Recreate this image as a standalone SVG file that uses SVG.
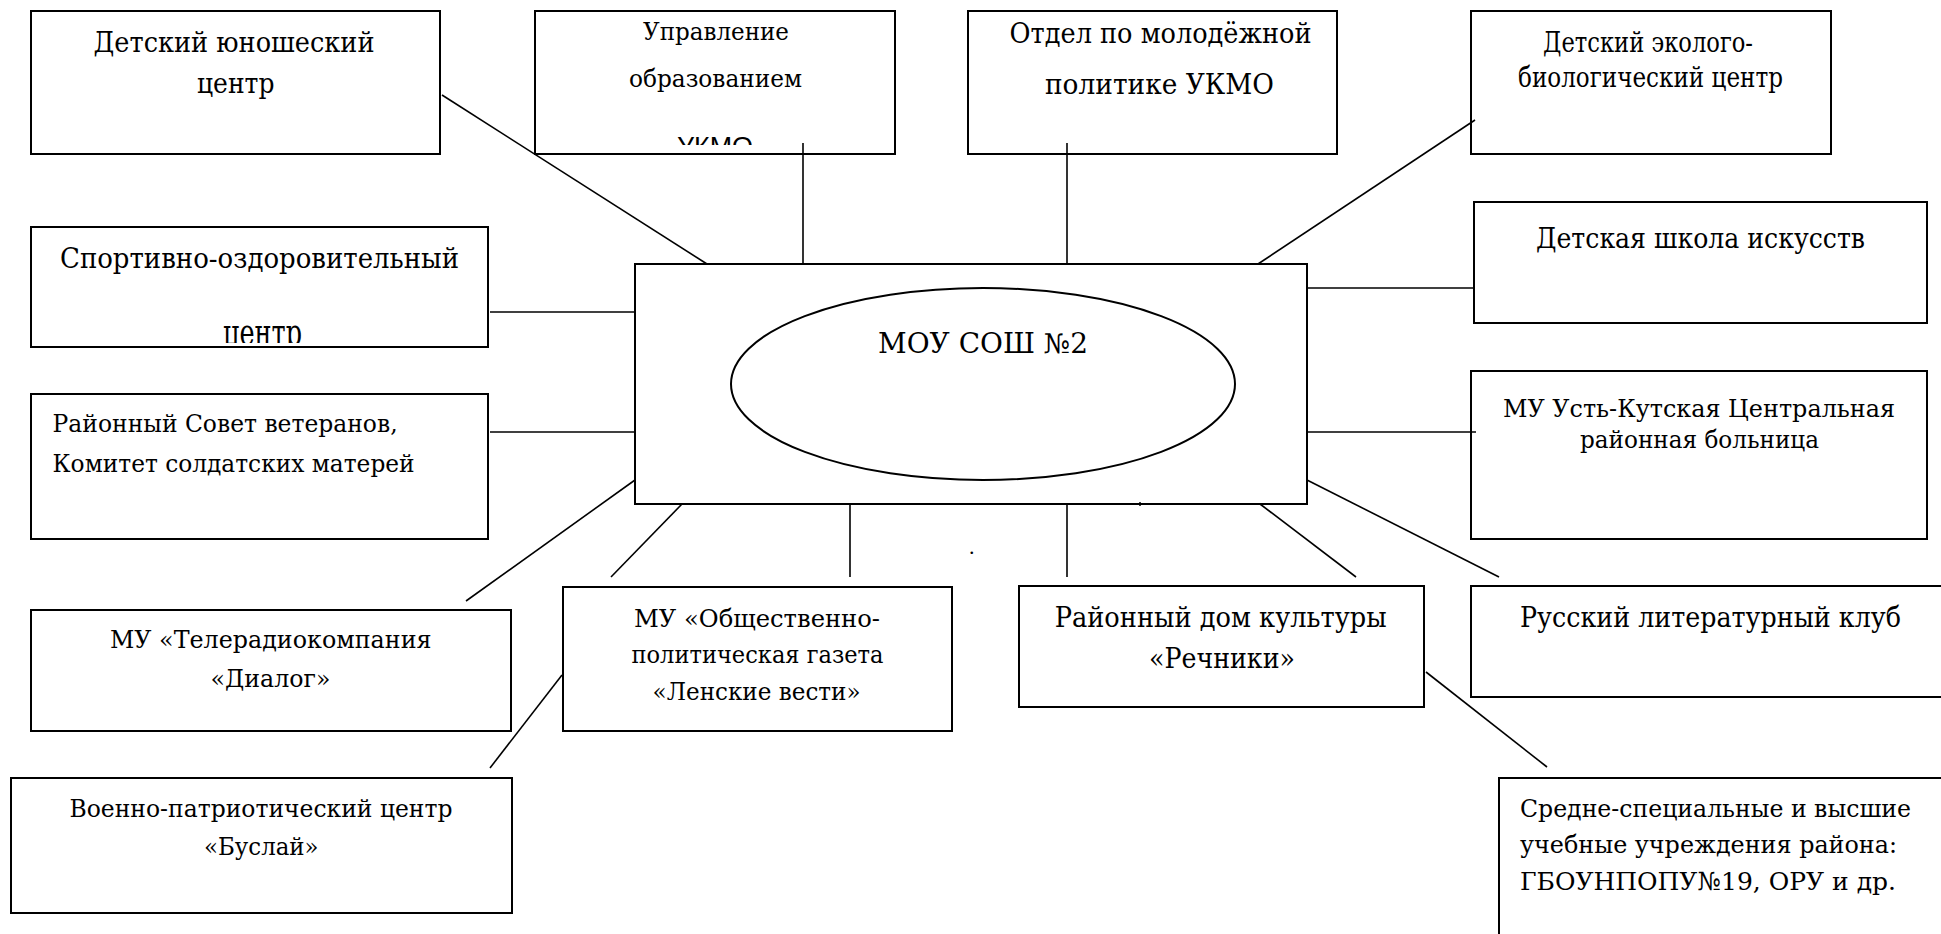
<svg xmlns="http://www.w3.org/2000/svg" width="1941" height="934" viewBox="0 0 1941 934">
<style>
.box{fill:#fff;stroke:#000;stroke-width:2}
.t{font-family:'DejaVu Serif','Liberation Serif','Times New Roman',serif;font-size:27px;fill:#000}
.m{font-size:25px}
.sans{font-family:'Liberation Sans',Arial,sans-serif;font-size:26px;fill:#000}
#connectors line{stroke:#000;stroke-width:1.6;fill:none}
</style>
<defs>
<clipPath id="clipUpr"><rect x="535" y="11" width="360" height="134"/></clipPath>
<clipPath id="clipSport"><rect x="31" y="227" width="457" height="116"/></clipPath>
</defs>
<rect width="1941" height="934" fill="#fff"/>

<g id="main">
<rect class="box" x="635" y="264" width="672" height="240"/>
<ellipse cx="983" cy="384" rx="252" ry="96" fill="#fff" stroke="#000" stroke-width="2"/>
<text class="t" x="878" y="353" textLength="210" lengthAdjust="spacingAndGlyphs">МОУ СОШ №2</text>
<line x1="1140" y1="502" x2="1140" y2="506" stroke="#000" stroke-width="1.5"/>
</g>

<g id="n1">
<rect class="box" x="31" y="11" width="409" height="143"/>
<text class="t" x="93.5" y="52" textLength="281" lengthAdjust="spacingAndGlyphs">Детский юношеский</text>
<text class="t" x="197" y="93" textLength="77.5" lengthAdjust="spacingAndGlyphs">центр</text>
</g>

<g id="n2">
<rect class="box" x="535" y="11" width="360" height="143"/>
<text class="t m" x="643" y="40" textLength="146" lengthAdjust="spacingAndGlyphs">Управление</text>
<text class="t m" x="629" y="87" textLength="173" lengthAdjust="spacingAndGlyphs">образованием</text>
<text class="sans" x="677" y="155" textLength="76" lengthAdjust="spacingAndGlyphs" clip-path="url(#clipUpr)">УКМО</text>
</g>

<g id="n3">
<rect class="box" x="968" y="11" width="369" height="143"/>
<text class="t" x="1009.6" y="43" textLength="302" lengthAdjust="spacingAndGlyphs">Отдел по молодёжной</text>
<text class="t" x="1045" y="94" textLength="229" lengthAdjust="spacingAndGlyphs">политике УКМО</text>
</g>

<g id="n4">
<rect class="box" x="1471" y="11" width="360" height="143"/>
<text class="t" x="1543" y="52" textLength="210" lengthAdjust="spacingAndGlyphs">Детский эколого-</text>
<text class="t" x="1518" y="87" textLength="265" lengthAdjust="spacingAndGlyphs">биологический центр</text>
</g>

<g id="n5">
<rect class="box" x="1474" y="202" width="453" height="121"/>
<text class="t" x="1536" y="248" textLength="329" lengthAdjust="spacingAndGlyphs">Детская школа искусств</text>
</g>

<g id="n6">
<rect class="box" x="31" y="227" width="457" height="120"/>
<text class="t" x="60" y="268" textLength="399" lengthAdjust="spacingAndGlyphs">Спортивно-оздоровительный</text>
<g clip-path="url(#clipSport)">
<text class="t" transform="translate(223 345) scale(1 1.4)" x="0" y="0" textLength="79" lengthAdjust="spacingAndGlyphs">центр</text>
</g>
</g>

<g id="n7">
<rect class="box" x="31" y="394" width="457" height="145"/>
<text class="t m" x="52.6" y="432" textLength="345" lengthAdjust="spacingAndGlyphs">Районный Совет ветеранов,</text>
<text class="t m" x="52.6" y="472" textLength="362" lengthAdjust="spacingAndGlyphs">Комитет солдатских матерей</text>
</g>

<g id="n8">
<rect class="box" x="1471" y="371" width="456" height="168"/>
<text class="t m" x="1503" y="417" textLength="392" lengthAdjust="spacingAndGlyphs">МУ Усть-Кутская Центральная</text>
<text class="t m" x="1580" y="448" textLength="239" lengthAdjust="spacingAndGlyphs">районная больница</text>
</g>

<g id="n9">
<rect class="box" x="31" y="610" width="480" height="121"/>
<text class="t m" x="110" y="648" textLength="321.5" lengthAdjust="spacingAndGlyphs">МУ «Телерадиокомпания</text>
<text class="t m" x="210.5" y="687" textLength="120" lengthAdjust="spacingAndGlyphs">«Диалог»</text>
</g>

<g id="n10">
<rect class="box" x="563" y="587" width="389" height="144"/>
<text class="t m" x="634" y="627" textLength="246" lengthAdjust="spacingAndGlyphs">МУ «Общественно-</text>
<text class="t m" x="631.5" y="663" textLength="252" lengthAdjust="spacingAndGlyphs">политическая газета</text>
<text class="t m" x="652.6" y="700" textLength="208" lengthAdjust="spacingAndGlyphs">«Ленские вести»</text>
</g>

<g id="n11">
<rect class="box" x="1019" y="586" width="405" height="121"/>
<text class="t" x="1054.7" y="627" textLength="332" lengthAdjust="spacingAndGlyphs">Районный дом культуры</text>
<text class="t" x="1149" y="668" textLength="146" lengthAdjust="spacingAndGlyphs">«Речники»</text>
</g>

<g id="n12">
<rect class="box" x="1471" y="586" width="482" height="111"/>
<text class="t" x="1520" y="627" textLength="381" lengthAdjust="spacingAndGlyphs">Русский литературный клуб</text>
</g>

<g id="n13">
<rect class="box" x="11" y="778" width="501" height="135"/>
<text class="t m" x="69.5" y="817" textLength="383" lengthAdjust="spacingAndGlyphs">Военно-патриотический центр</text>
<text class="t m" x="204" y="855" textLength="114.6" lengthAdjust="spacingAndGlyphs">«Буслай»</text>
</g>

<g id="n14">
<rect class="box" x="1499" y="778" width="460" height="170"/>
<text class="t m" x="1520" y="817" textLength="391" lengthAdjust="spacingAndGlyphs">Средне-специальные и высшие</text>
<text class="t m" x="1520" y="853" textLength="377" lengthAdjust="spacingAndGlyphs">учебные учреждения района:</text>
<text class="t m" x="1520" y="890" textLength="376" lengthAdjust="spacingAndGlyphs">ГБОУНПОПУ№19, ОРУ и др.</text>
</g>

<text x="969" y="554" font-family="Liberation Serif, serif" font-size="22">.</text>

<g id="connectors">
<line x1="442" y1="95" x2="707" y2="264"/>
<line x1="803" y1="143" x2="803" y2="264"/>
<line x1="1067" y1="143" x2="1067" y2="264"/>
<line x1="1475" y1="120" x2="1258" y2="264"/>
<line x1="1307" y1="288" x2="1475" y2="288"/>
<line x1="490" y1="312" x2="635" y2="312"/>
<line x1="490" y1="432" x2="635" y2="432"/>
<line x1="1307" y1="432" x2="1476" y2="432"/>
<line x1="635" y1="480" x2="466" y2="601"/>
<line x1="682" y1="504" x2="611" y2="577"/>
<line x1="850" y1="504" x2="850" y2="577"/>
<line x1="1067" y1="504" x2="1067" y2="577"/>
<line x1="1260" y1="504" x2="1356" y2="577"/>
<line x1="1307" y1="480" x2="1499" y2="577"/>
<line x1="562" y1="675" x2="490" y2="768"/>
<line x1="1426" y1="672" x2="1547" y2="767"/>
</g>
</svg>
